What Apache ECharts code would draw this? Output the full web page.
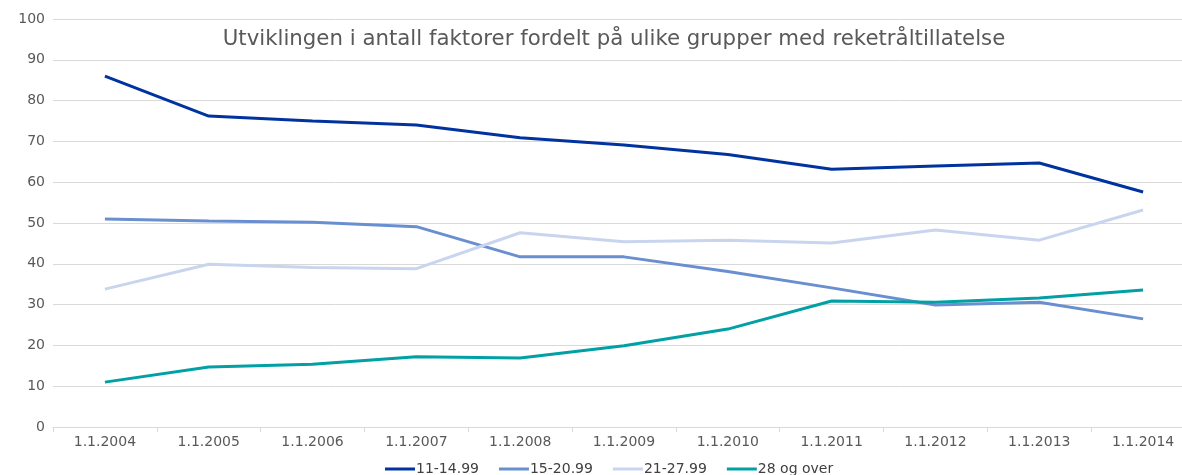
<!DOCTYPE html>
<html><head><meta charset="utf-8">
<script src="https://cdn.jsdelivr.net/npm/echarts@6/dist/echarts.min.js"></script>
<style>html,body{margin:0;padding:0;background:#fff}#c{width:1182px;height:475px}</style>
</head><body><div id="c"></div>
<script>
const categories = ['1.1.2004','1.1.2005','1.1.2006','1.1.2007','1.1.2008','1.1.2009','1.1.2010','1.1.2011','1.1.2012','1.1.2013','1.1.2014'];
const seriesNames = ['11-14.99','15-20.99','21-27.99','28 og over'];
const s1114 = [86.0, 76.2, 75.0, 74.0, 70.9, 69.1, 66.8, 63.2, 64.0, 64.7, 57.6];
const s1520 = [51.0, 50.5, 50.2, 49.1, 41.7, 41.7, 38.1, 34.1, 29.9, 30.6, 26.5];
const s2127 = [33.8, 39.9, 39.1, 38.8, 47.6, 45.4, 45.8, 45.1, 48.3, 45.8, 53.2];
const s28 = [11.0, 14.7, 15.4, 17.2, 16.9, 19.9, 24.0, 30.9, 30.6, 31.6, 33.6];
const colors = ['#0033a0','#6a8fd0','#c9d5ee','#00a0a4'];
const font = '"DejaVu Sans", Verdana, sans-serif';
const chart = echarts.init(document.getElementById('c'));
const data = [s1114, s1520, s2127, s28];
chart.setOption({
  animation: false,
  title: { text: 'Utviklingen i antall faktorer fordelt på ulike grupper med reketråltillatelse', left: 609, textAlign: 'center', top: 24,
    textStyle: { fontFamily: font, fontSize: 21.3, fontWeight: 'normal', color: '#595959' } },
  legend: { bottom: -6, left: 380, itemWidth: 30, itemHeight: 3, icon: 'rect', itemGap: 20,
    textStyle: { fontFamily: font, fontSize: 14, color: '#404040', padding: [0,0,0,-4] }, data: seriesNames },
  grid: { left: 53, width: 1142, top: 19, bottom: 48, containLabel: false, outerBoundsMode: 'none' },
  xAxis: { type: 'category', data: categories, boundaryGap: true,
    axisLine: { lineStyle: { color: '#d9d9d9', width: 1 } },
    axisTick: { show: true, length: 5, lineStyle: { color: '#d9d9d9' } },
    axisLabel: { fontFamily: font, fontSize: 14, color: '#595959', margin: 8 } },
  yAxis: { type: 'value', min: 0, max: 100, interval: 10,
    axisLine: { show: false }, axisTick: { show: false },
    splitLine: { lineStyle: { color: '#d9d9d9', width: 1 } },
    axisLabel: { fontFamily: font, fontSize: 14, color: '#595959', margin: 8 } },
  series: seriesNames.map((n, i) => ({ name: n, type: 'line', data: data[i], symbol: 'none',
    lineStyle: { width: 3, color: colors[i] }, itemStyle: { color: colors[i] } }))
});
</script></body></html>
